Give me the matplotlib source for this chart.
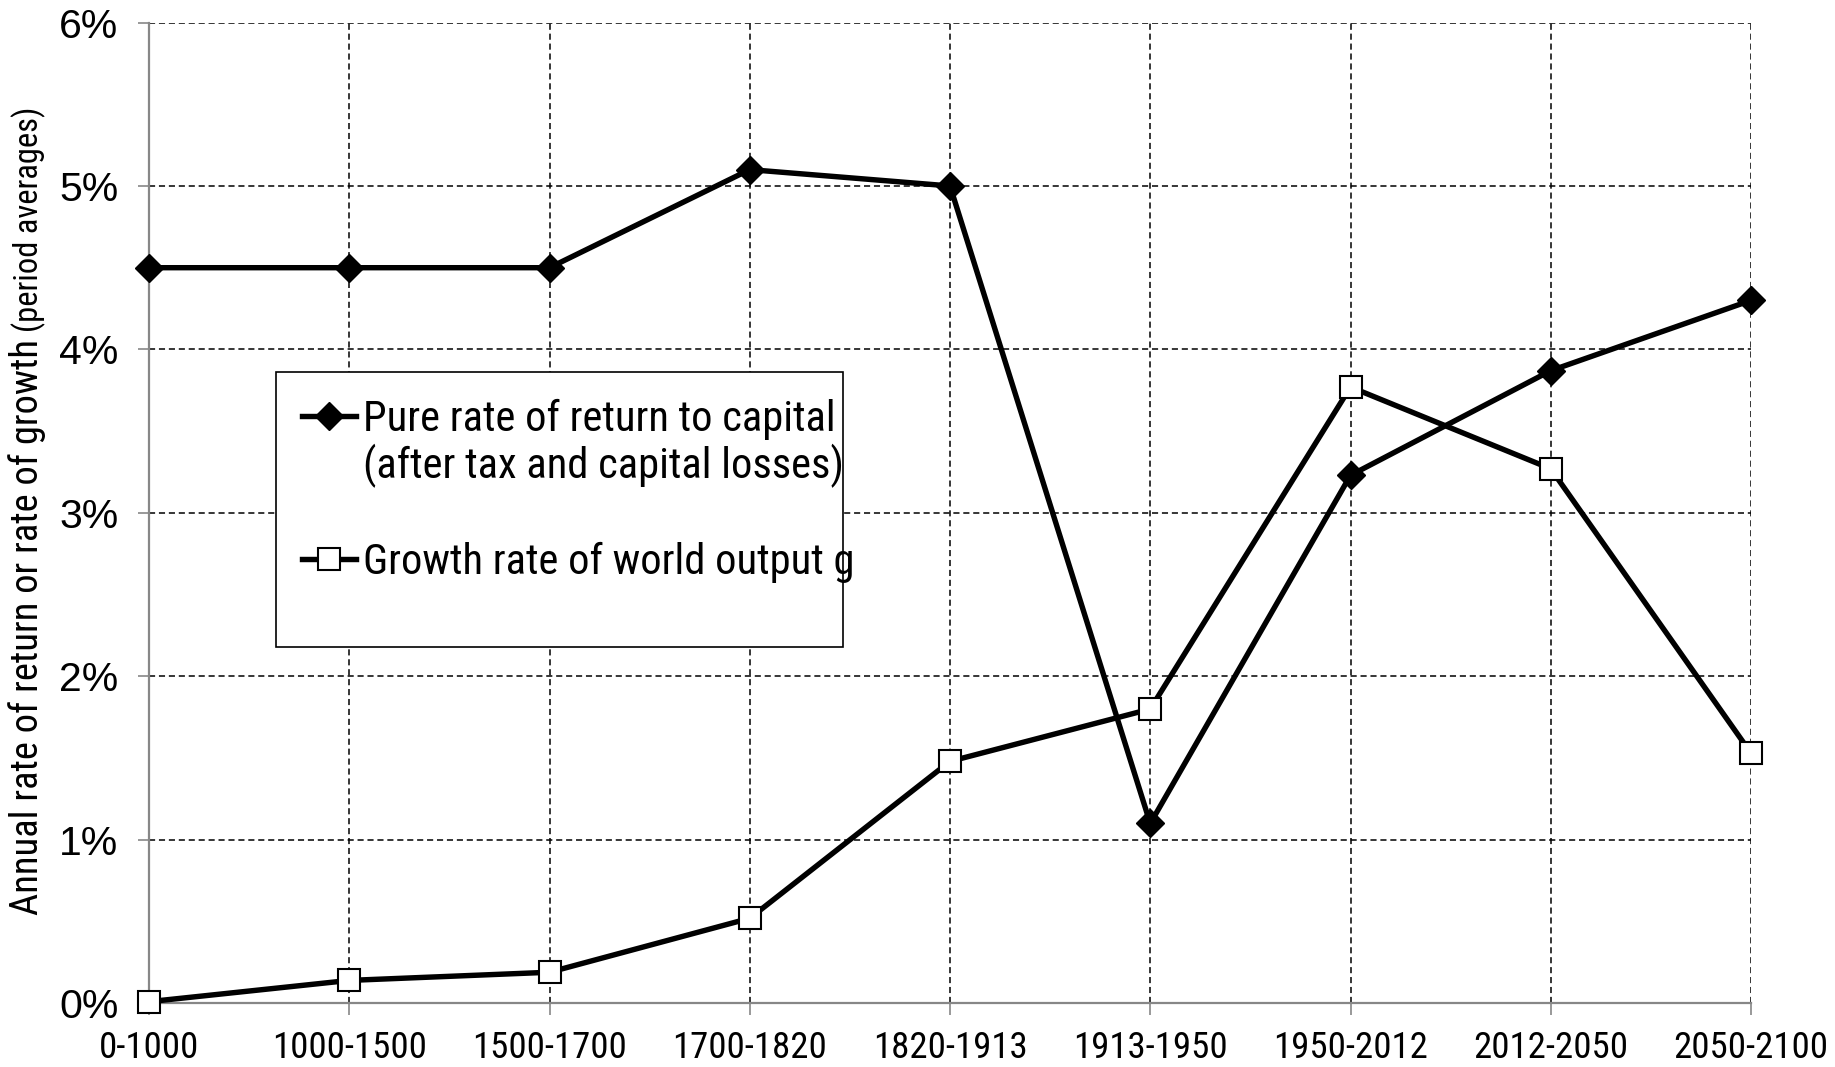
import matplotlib
matplotlib.use("Agg")
import matplotlib.pyplot as plt
from matplotlib.patches import Rectangle

plt.rcParams['font.family'] = ['Liberation Sans', 'DejaVu Sans']
NARROW = ['Roboto Condensed', 'Archivo Narrow', 'Liberation Sans']

# Periods (x axis)
periods = ['0-1000', '1000-1500', '1500-1700', '1700-1820', '1820-1913',
           '1913-1950', '1950-2012', '2012-2050', '2050-2100']

# Pure rate of return to capital (after tax and capital losses), in %
r_values = [4.50, 4.50, 4.50, 5.10, 5.00, 1.10, 3.23, 3.87, 4.30]

# Growth rate of world output g, in %
g_values = [0.01, 0.14, 0.19, 0.52, 1.48, 1.80, 3.77, 3.27, 1.53]

y_ticks = [0, 1, 2, 3, 4, 5, 6]

r_label = 'Pure rate of return to capital'
r_label_2 = '(after tax and capital losses)'
g_label = 'Growth rate of world output g'
y_label = 'Annual rate of return or rate of growth'
y_label_small = '(period averages)'

W, H = 1835, 1067
GRAY = '#878787'


def text_width(fig, t, vertical=False):
    fig.canvas.draw()
    bb = t.get_window_extent()
    return bb.height if vertical else bb.width


def make_legend(ax, fig, fs, spacing, anchor_y):
    px = fs * 100 / 72
    leg = ax.legend(loc='upper left', bbox_to_anchor=(302 / W, anchor_y),
                    bbox_transform=fig.transFigure, frameon=False,
                    prop={'family': NARROW, 'size': fs},
                    handlelength=54 / px, handletextpad=7 / px, borderpad=0,
                    borderaxespad=0, labelspacing=spacing, numpoints=1)
    leg.set_zorder(10)
    return leg


def main():
    fig = plt.figure(figsize=(W / 100, H / 100), dpi=100)
    ax = fig.add_axes([149 / W, 1 - 1003.3 / H, (1751 - 149) / W, (1003.3 - 22.5) / H])

    x = list(range(len(periods)))

    # grille pointillée façon Excel
    for v in y_ticks[1:]:
        ax.axhline(v, color='black', lw=1.1, ls=(0, (4, 2.5)), zorder=1)
    for xi in x[1:]:
        ax.axvline(xi, color='black', lw=1.1, ls=(0, (4, 2.5)), zorder=1)

    ax.plot(x, r_values, color='black', lw=3.9, marker='D', ms=14.5,
            mfc='black', mec='black', label=r_label, zorder=5, clip_on=False)
    ax.plot(x, g_values, color='black', lw=3.9, marker='s', ms=16.5,
            mfc='white', mec='black', mew=1.5, label=g_label, zorder=6, clip_on=False)

    ax.set_xlim(0, len(periods) - 1)
    ax.set_ylim(0, 6)
    ax.set_xticks(x)
    ax.set_xticklabels(periods, fontsize=28, family=NARROW)
    ax.set_yticks(y_ticks)
    ax.set_yticklabels([f'{v}%' for v in y_ticks], fontsize=29.5)

    for side in ['top', 'right']:
        ax.spines[side].set_visible(False)
    for side in ['left', 'bottom']:
        ax.spines[side].set_color(GRAY)
        ax.spines[side].set_linewidth(1.6)
        ax.spines[side].set_zorder(2)
    ax.tick_params(axis='y', direction='out', length=8, width=1.2, color=GRAY, pad=14)
    ax.tick_params(axis='x', direction='out', length=8.5, width=1.2, color=GRAY, pad=11)

    # taille des étiquettes x ajustée à la largeur mesurée sur l'original
    w = text_width(fig, ax.get_xticklabels()[1])
    xfs = 28 * 155 / w
    for t in ax.get_xticklabels():
        t.set_fontsize(xfs)

    # cadre de la légende
    ax.add_patch(Rectangle((276 / W, 1 - 647 / H), 567 / W, 275 / H,
                           transform=fig.transFigure, facecolor='white',
                           edgecolor='black', lw=1.2, zorder=8, clip_on=False))

    # légende : taille, interligne et position ajustés en plusieurs passes
    fs, spacing, anchor_y = 30, 2.0, 1 - 397 / H
    leg = make_legend(ax, fig, fs, spacing, anchor_y)
    fs = fs * 473 / text_width(fig, leg.get_texts()[0])
    leg.remove()
    leg = make_legend(ax, fig, fs, spacing, anchor_y)
    for _ in range(2):
        fig.canvas.draw()
        b0 = leg.get_texts()[0].get_window_extent()
        b1 = leg.get_texts()[1].get_window_extent()
        c0 = (b0.y0 + b0.y1) / 2
        c1 = (b1.y0 + b1.y1) / 2
        spacing += (143 - (c0 - c1)) / (fs * 100 / 72)
        anchor_y += ((H - 419) - c0) / H
        leg.remove()
        leg = make_legend(ax, fig, fs, spacing, anchor_y)

    fig.canvas.draw()
    bb = leg.get_texts()[0].get_window_extent()
    ax.text(bb.x0 / W, ((bb.y0 + bb.y1) / 2 - 47) / H, r_label_2,
            transform=fig.transFigure, fontsize=fs, family=NARROW,
            va='center', ha='left', zorder=11)

    # titre de l'axe y en deux tailles
    t1 = fig.text(38 / W, 1 - 915 / H, y_label, fontsize=26, family=NARROW,
                  rotation=90, rotation_mode='anchor', ha='left', va='baseline')
    t1.set_fontsize(26 * 575 / text_width(fig, t1, vertical=True))
    fig.canvas.draw()
    bb1 = t1.get_window_extent()
    t2 = fig.text(38 / W, (bb1.y1 + 7) / H, y_label_small, fontsize=20, family=NARROW,
                  rotation=90, rotation_mode='anchor', ha='left', va='baseline')
    t2.set_fontsize(20 * 225 / text_width(fig, t2, vertical=True))

    fig.savefig('out.png', dpi=100)
    plt.close(fig)


if __name__ == "__main__":
    main()
